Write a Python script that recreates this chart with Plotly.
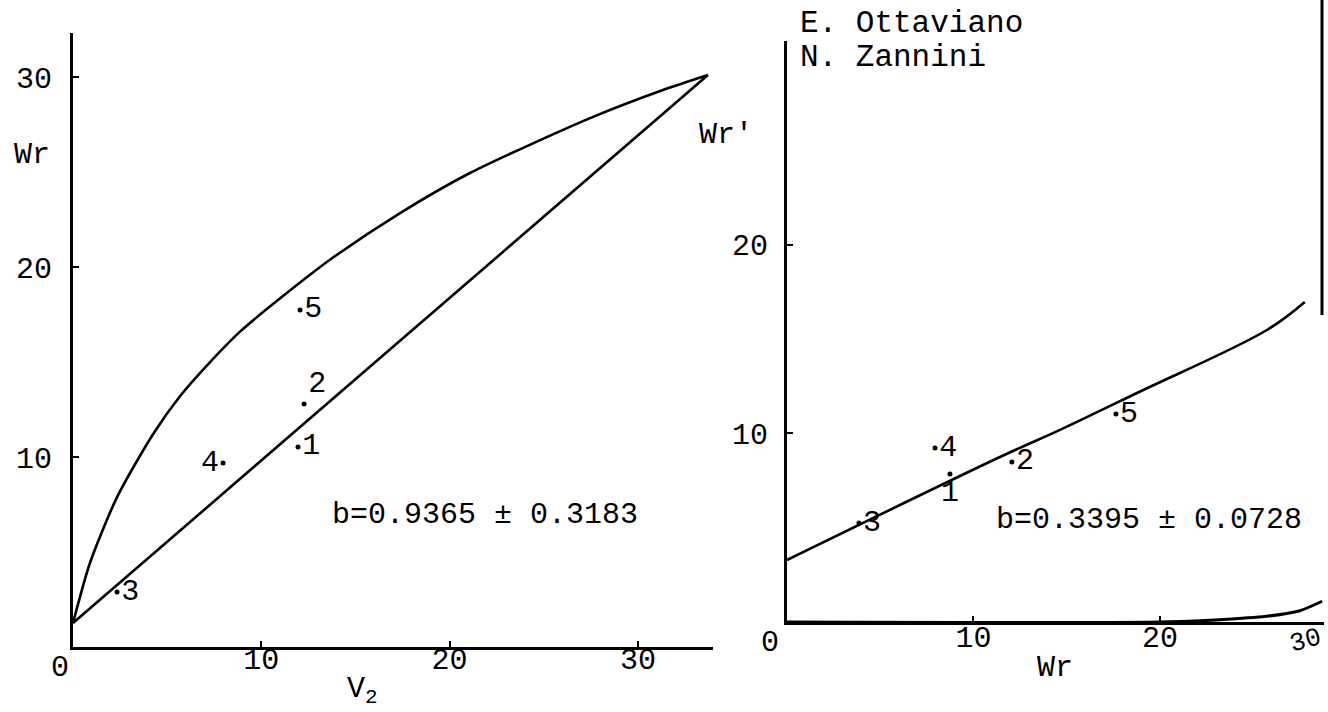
import plotly.graph_objects as go

FONT = "Liberation Mono, DejaVu Sans Mono, monospace"
W, H = 1328, 712

# ---------------- Left panel: Wr against V2 ----------------
point_labels = ["1", "2", "3", "4", "5"]
left_v2 = [11.95, 12.27, 2.34, 7.97, 12.06]
left_wr = [10.53, 12.79, 2.89, 9.68, 17.74]
left_label_pos = ["middle right", "top right", "middle right", "middle left", "middle right"]

parabola_v2 = [0, 0.90, 2.34, 4.25, 5.68, 7.28, 8.87, 12.21, 13.81, 17.37, 21.08, 27.46, 31.33, 33.72]
parabola_wr = [1.26, 4.42, 7.89, 11.2, 13.2, 15.0, 16.6, 19.3, 20.5, 22.84, 24.95, 27.84, 29.32, 30.11]

reg_left_v2 = [0, 33.72]
reg_left_wr = [1.26, 30.11]

left_ticks = [10, 20, 30]
left_ticktext = ["10", "20", "30"]
left_note = "b=0.9365 ± 0.3183"

# ---------------- Right panel: Wr' against Wr ----------------
right_wr = [8.74, 12.06, 3.86, 7.94, 17.64]
right_wrp = [7.85, 8.49, 5.25, 9.23, 11.03]
right_label_pos = ["bottom center", "middle right", "middle right", "middle right", "middle right"]

reg_right_wr = [0, 11.42, 14.64, 18.77, 25.74, 27.77]
reg_right_wrp = [3.29, 8.75, 10.19, 12.15, 15.49, 16.98]

lower_wr = [0, 20.0, 23.2, 25.7, 27.5, 28.7]
lower_wrp = [0, 0, 0.12, 0.3, 0.6, 1.1]

right_ticks = [10, 20]
right_ticktext = ["10", "20"]
right_note = "b=0.3395 ± 0.0728"
authors = ["E. Ottaviano", "N. Zannini"]

line_style = dict(color="black", width=2.6)
txt = dict(family=FONT, size=30, color="black")

fig = go.Figure()

# left panel traces
fig.add_trace(go.Scatter(x=parabola_v2, y=parabola_wr, mode="lines",
                         line=dict(shape="spline", smoothing=0.7, **line_style),
                         xaxis="x", yaxis="y", hoverinfo="skip"))
fig.add_trace(go.Scatter(x=reg_left_v2, y=reg_left_wr, mode="lines", line=line_style,
                         xaxis="x", yaxis="y", hoverinfo="skip"))
fig.add_trace(go.Scatter(x=left_v2, y=left_wr, mode="markers+text", text=point_labels,
                         textposition=left_label_pos, textfont=txt,
                         marker=dict(color="black", size=5), cliponaxis=False,
                         xaxis="x", yaxis="y"))

# right panel traces
fig.add_trace(go.Scatter(x=reg_right_wr, y=reg_right_wrp, mode="lines",
                         line=dict(shape="spline", smoothing=1.0, **line_style),
                         xaxis="x2", yaxis="y2", hoverinfo="skip"))
fig.add_trace(go.Scatter(x=lower_wr, y=lower_wrp, mode="lines",
                         line=dict(shape="spline", smoothing=0.7, color="black", width=3),
                         xaxis="x2", yaxis="y2", hoverinfo="skip", cliponaxis=False))
fig.add_trace(go.Scatter(x=right_wr, y=right_wrp, mode="markers+text", text=point_labels,
                         textposition=right_label_pos, textfont=txt,
                         marker=dict(color="black", size=5), cliponaxis=False,
                         xaxis="x2", yaxis="y2"))

axis_common = dict(showgrid=False, zeroline=False, showline=True, linecolor="black", linewidth=3,
                   ticks="inside", ticklen=6, tickwidth=2, tickcolor="black",
                   tickfont=txt, fixedrange=True)

fig.update_layout(
    width=W, height=H,
    margin=dict(l=0, r=0, t=0, b=0),
    paper_bgcolor="white", plot_bgcolor="rgba(0,0,0,0)",
    showlegend=False,
    xaxis=dict(domain=[73 / W, 713.2 / W], range=[0, 34], anchor="y",
               tickvals=left_ticks, ticktext=left_ticktext, ticklabelstandoff=-17, **axis_common),
    yaxis=dict(domain=[(H - 647) / H, (H - 33) / H], range=[0, 32.32], anchor="x",
               tickvals=left_ticks, ticktext=left_ticktext, ticklabelstandoff=12, **axis_common),
    xaxis2=dict(domain=[787 / W, 1324 / W], range=[0, 28.8], anchor="y2",
                tickvals=right_ticks, ticktext=right_ticktext, ticklabelstandoff=-14, **axis_common),
    yaxis2=dict(domain=[(H - 622) / H, (H - 41) / H], range=[0, 30.82], anchor="x2",
                tickvals=right_ticks, ticktext=right_ticktext, ticklabelstandoff=10, **axis_common),
)


def px(xp, yp):
    return dict(x=xp / W, y=(H - yp) / H, xref="paper", yref="paper")


ann = []
# left panel texts
ann.append(dict(text="0", **px(60, 668)))
ann.append(dict(text="Wr", **px(32, 155)))
ann.append(dict(text="V<sub>2</sub>", **px(362, 690)))
ann.append(dict(x=21.9, y=6.95, xref="x", yref="y", text=left_note))
# right panel texts
ann.append(dict(text="0", **px(770, 643)))
ann.append(dict(text="Wr'", **px(726, 135)))
ann.append(dict(text="Wr", **px(1055, 668)))
ann.append(dict(x=19.4, y=5.4, xref="x2", yref="y2", text=right_note))
ann.append(dict(text="30", textangle=-15, font_size=26, **px(1305, 641)))
ann.append(dict(text=authors[0], xanchor="left", font_size=31, **px(798, 23)))
ann.append(dict(text=authors[1], xanchor="left", font_size=31, **px(798, 57)))
for a in ann:
    a.setdefault("xanchor", "center")
    size = a.pop("font_size", 30)
    a.update(yanchor="middle", showarrow=False, font=dict(family=FONT, size=size, color="black"))
fig.update_layout(annotations=ann)

# scanned page edge on the right
fig.add_shape(type="line", xref="paper", yref="paper", x0=1322 / W, x1=1322 / W,
              y0=(H - 315) / H, y1=1, line=dict(color="black", width=3))

fig.write_html("out.html", config={"displayModeBar": False},
               post_script="document.body.style.margin='0';")
